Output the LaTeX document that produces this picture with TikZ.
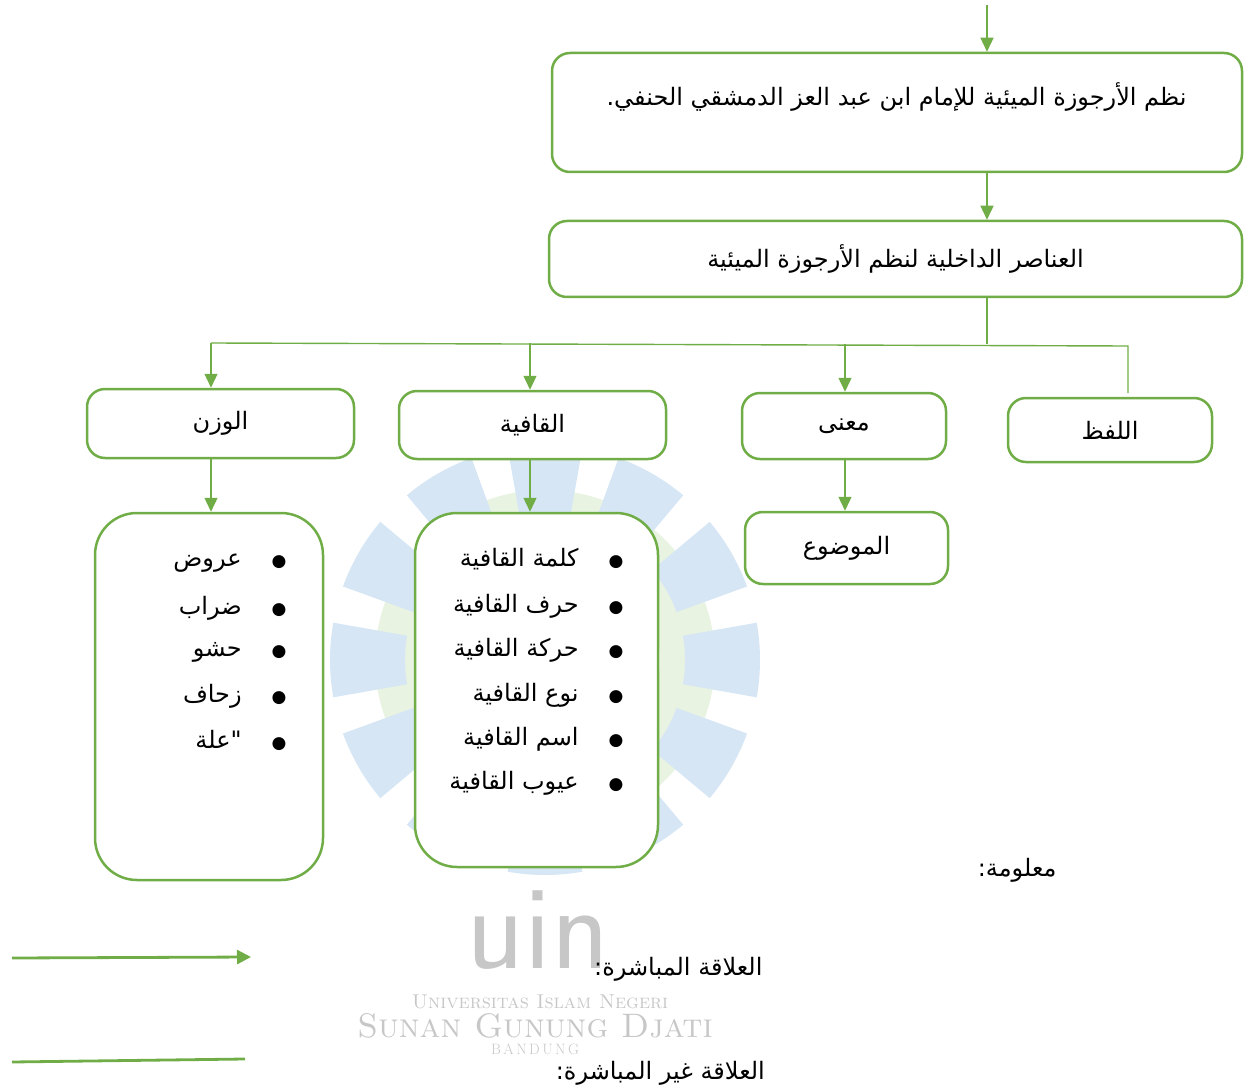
\documentclass[tikz,border=0pt]{standalone}
\usepackage{fontspec}
\newfontfamily\arabicfont[Script=Arabic]{DejaVu Sans}
\TeXXeTstate=1
\usetikzlibrary{arrows.meta,positioning}
\definecolor{leaf}{RGB}{112,173,71}
\definecolor{petal}{RGB}{214,230,245}
\definecolor{ring}{RGB}{233,243,226}
\newcommand{\itemdot}{{\fontsize{17}{17}\selectfont ●}\hspace{30pt}}

\begin{document}
\begin{tikzpicture}[x = 1pt, y = -1pt,
  box/.style={draw=leaf,line width=2.5pt,rounded corners=18pt,fill=white,inner sep=0pt},
  listbox/.style={box,rounded corners=42pt},
  link/.style={draw=leaf,line width=1.4pt},
  arr/.style={link,-{Triangle[length=14pt,width=13pt]}},
  lbl/.style={font=\arabicfont\fontsize{24}{28}\selectfont},
  item/.style={lbl,anchor=east},
  wm/.style={text=black!22,inner sep=0pt}]
\useasboundingbox (0,0) rectangle (1253,1091);
% watermark behind the chart
\fill[ring,even odd rule] (545,660) circle (170) (545,660) circle (115);
\fill[petal] (545,660) ++(80:140) arc (80:100:140) -- ++(100:75) arc (100:80:215) -- cycle;
\fill[petal] (545,660) ++(110:140) arc (110:130:140) -- ++(130:75) arc (130:110:215) -- cycle;
\fill[petal] (545,660) ++(140:140) arc (140:160:140) -- ++(160:75) arc (160:140:215) -- cycle;
\fill[petal] (545,660) ++(170:140) arc (170:190:140) -- ++(190:75) arc (190:170:215) -- cycle;
\fill[petal] (545,660) ++(200:140) arc (200:220:140) -- ++(220:75) arc (220:200:215) -- cycle;
\fill[petal] (545,660) ++(230:140) arc (230:250:140) -- ++(250:75) arc (250:230:215) -- cycle;
\fill[petal] (545,660) ++(260:140) arc (260:280:140) -- ++(280:75) arc (280:260:215) -- cycle;
\fill[petal] (545,660) ++(290:140) arc (290:310:140) -- ++(310:75) arc (310:290:215) -- cycle;
\fill[petal] (545,660) ++(320:140) arc (320:340:140) -- ++(340:75) arc (340:320:215) -- cycle;
\fill[petal] (545,660) ++(-10:140) arc (-10:10:140) -- ++(10:75) arc (10:-10:215) -- cycle;
\fill[petal] (545,660) ++(20:140) arc (20:40:140) -- ++(40:75) arc (40:20:215) -- cycle;
\fill[petal] (545,660) ++(50:140) arc (50:70:140) -- ++(70:75) arc (70:50:215) -- cycle;
\node[wm,font=\sffamily\fontsize{120}{120}\selectfont] (uin) at (538,930) {uin};
\node[wm,font=\fontsize{20}{20}\selectfont] (uni) at (540,1002) {\textsc{Universitas Islam Negeri}};
\node[wm,font=\fontsize{34}{34}\selectfont] (sgd) at (535,1026) {\textsc{Sunan Gunung Djati}};
\node[wm,font=\fontsize{15}{15}\selectfont] (bdg) at (535,1049) {B\,A\,N\,D\,U\,N\,G};

% boxes
\node[box,minimum width=690pt,minimum height=119pt] (title) at (897,112.5) {};
\node[lbl,anchor=east] (titletext) at (1190,97) {\beginR نظم الأرجوزة الميئية للإمام ابن عبد العز الدمشقي الحنفي.\endR};
\node[box,minimum width=693pt,minimum height=76pt,lbl] (inner) at (895.5,259) {\beginR العناصر  الداخلية لنظم الأرجوزة الميئية\endR};
\node[box,minimum width=267pt,minimum height=69pt,lbl] (wazn) at (220.5,423.5) {\beginR الوزن\endR};
\node[box,minimum width=267pt,minimum height=68pt,lbl] (qafiya) at (532.5,425) {\beginR القافية\endR};
\node[box,minimum width=204pt,minimum height=66pt,lbl] (mana) at (844,426) {\beginR معنى\endR};
\node[box,minimum width=204pt,minimum height=64pt,lbl] (lafz) at (1110,430) {\beginR اللفظ\endR};
\node[box,minimum width=203pt,minimum height=72pt,lbl] (mawdu) at (846.5,548) {\beginR الموضوع\endR};
\node[listbox,minimum width=228pt,minimum height=367pt] (waznlist) at (209,696.5) {};
\node[listbox,minimum width=243pt,minimum height=354pt] (qafiyalist) at (536.5,690) {};

% list items
\node[item] (w1) at (290,563) {\beginR \itemdot عروض\endR};
\node[item] (w2) at (290,608) {\beginR \itemdot ضراب\endR};
\node[item] (w3) at (290,652) {\beginR \itemdot حشو\endR};
\node[item] (w4) at (290,696) {\beginR \itemdot زحاف\endR};
\node[item] (w5) at (290,740) {\beginR \itemdot "علة\endR};
\node[item] (q1) at (627,559) {\beginR \itemdot كلمة القافية\endR};
\node[item] (q2) at (627,606) {\beginR \itemdot حرف القافية\endR};
\node[item] (q3) at (627,650) {\beginR \itemdot حركة القافية\endR};
\node[item] (q4) at (627,695) {\beginR \itemdot نوع القافية\endR};
\node[item] (q5) at (627,739) {\beginR \itemdot اسم القافية\endR};
\node[item] (q6) at (627,783) {\beginR \itemdot عيوب القافية\endR};

% connectors
\coordinate (top) at (987,5);
\coordinate (bus) at (987,344);
\coordinate (b1) at (211,343);
\coordinate (b2) at (530,343);
\coordinate (b3) at (845,344);
\coordinate (b4) at (1128,346);
\coordinate (b4end) at (1128,393);
\draw[arr] (top) -- (top |- title.north);
\draw[arr] (title.south -| top) -- (top |- inner.north);
\draw[link] (inner.south -| top) -- (bus);
\draw[link] (b1) -- (b4) -- (b4end);
\draw[arr] (b1) -- (b1 |- wazn.north);
\draw[arr] (b2) -- (b2 |- qafiya.north);
\draw[arr] (b3) -- (b3 |- mana.north);
\draw[arr] (wazn.south -| b1) -- (b1 |- waznlist.north);
\draw[arr] (qafiya.south -| b2) -- (b2 |- qafiyalist.north);
\draw[arr] (mana.south -| b3) -- (b3 |- mawdu.north);

% key
\node[lbl,anchor=east] (key) at (1060,870) {\beginR معلومة:\endR};
\coordinate (direct1) at (12,958);
\coordinate (direct2) at (251,957);
\coordinate (indirect1) at (12,1062);
\coordinate (indirect2) at (245,1059);
\draw[draw=leaf,line width=2.8pt,-{Triangle[length=14pt,width=14pt]}] (direct1) -- (direct2);
\draw[draw=leaf,line width=2.8pt] (indirect1) -- (indirect2);
\node[lbl,anchor=east] (directtext) at (766,969) {\beginR العلاقة المباشرة:\endR};
\node[lbl,anchor=east,inner sep=1pt] (indirecttext) at (766,1073) {\beginR العلاقة غير المباشرة:\endR};
\end{tikzpicture}
\end{document}
